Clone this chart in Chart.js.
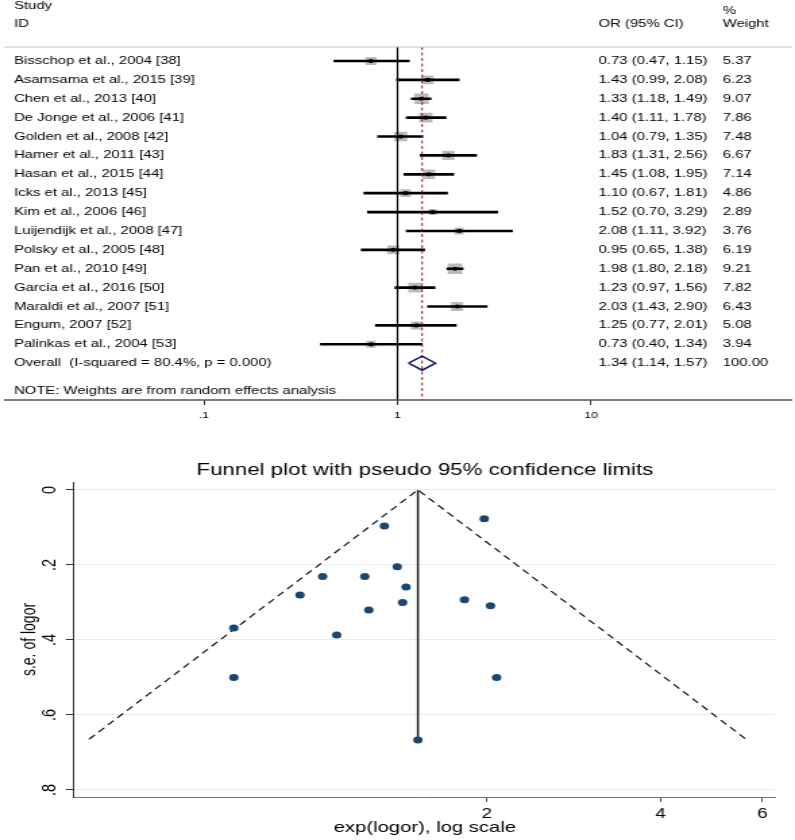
<!DOCTYPE html>
<html>
<head>
<meta charset="utf-8">
<title>Forest plot and funnel plot</title>
<script src="https://cdn.jsdelivr.net/npm/chart.js@4.4.1/dist/chart.umd.min.js"></script>
<style>
  html, body { margin: 0; padding: 0; background: #fff; }
  .wrap { position: relative; width: 795px; height: 840px; overflow: hidden; }
  canvas { position: absolute; left: 0; }
</style>
</head>
<body>
<div class="wrap">
  <!-- canvases are drawn narrow and stretched sideways, like the original figure -->
  <canvas id="forest" width="589" height="432" style="top:0;width:795px;height:432px"></canvas>
  <canvas id="funnel" width="589" height="408" style="top:432px;width:795px;height:408px"></canvas>
</div>
<script>
// ---- forest plot data ----
const studies = [
  "Bisschop et al., 2004 [38]", "Asamsama et al., 2015 [39]", "Chen et al., 2013 [40]",
  "De Jonge et al., 2006 [41]", "Golden et al., 2008 [42]", "Hamer et al., 2011 [43]",
  "Hasan et al., 2015 [44]", "Icks et al., 2013 [45]", "Kim et al., 2006 [46]",
  "Luijendijk et al., 2008 [47]", "Polsky et al., 2005 [48]", "Pan et al., 2010 [49]",
  "Garcia et al., 2016 [50]", "Maraldi et al., 2007 [51]", "Engum, 2007 [52]",
  "Palinkas et al., 2004 [53]"
];
const orValues = [0.73, 1.43, 1.33, 1.40, 1.04, 1.83, 1.45, 1.10, 1.52, 2.08, 0.95, 1.98, 1.23, 2.03, 1.25, 0.73];
const ciLower  = [0.47, 0.99, 1.18, 1.11, 0.79, 1.31, 1.08, 0.67, 0.70, 1.11, 0.65, 1.80, 0.97, 1.43, 0.77, 0.40];
const ciUpper  = [1.15, 2.08, 1.49, 1.78, 1.35, 2.56, 1.95, 1.81, 3.29, 3.92, 1.38, 2.18, 1.56, 2.90, 2.01, 1.34];
const weights  = [5.37, 6.23, 9.07, 7.86, 7.48, 6.67, 7.14, 4.86, 2.89, 3.76, 6.19, 9.21, 7.82, 6.43, 5.08, 3.94];
const overallOR = 1.34;
const overallLower = 1.14;
const overallUpper = 1.57;
const overallWeight = "100.00";
const overallLabel = "Overall  (I-squared = 80.4%, p = 0.000)";
const noteLabel = "NOTE: Weights are from random effects analysis";
const forestTicks = [0.1, 1, 10];
const forestTickLabels = [".1", "1", "10"];

// ---- funnel plot data ----
const funnelOR = [0.73, 1.43, 1.33, 1.40, 1.04, 1.83, 1.45, 1.10, 1.52, 2.08, 0.95, 1.98, 1.23, 2.03, 1.25, 0.73];
const funnelSE = [0.368, 0.300, 0.096, 0.205, 0.231, 0.293, 0.259, 0.387, 0.667, 0.500, 0.280, 0.077, 0.231, 0.309, 0.320, 0.500];
const pooledOR = 1.52;
const limitSE = 0.665;
const limitLower = 0.41;
const limitUpper = 5.62;
const funnelXTicks = [2, 4, 6];
const funnelYTicks = [0, 0.2, 0.4, 0.6, 0.8];
const funnelYTickLabels = ["0", ".2", ".4", ".6", ".8"];

const FONT = '"Liberation Sans", Arial, Helvetica, sans-serif';

// layout (internal canvas px; the canvas is stretched x1.35 on screen)
const COL_ID = 10.4;
const COL_OR = 443.5;
const COL_W = 535.5;
const ROW_OVERALL = 17;
const ROW_NOTE = 18.47;
const Y_MIN = 0.259;
const Y_MAX = 18.95;

function drawText(ctx, s, x, y, size, align, rot) {
  ctx.save();
  ctx.font = size + "px " + FONT;
  ctx.fillStyle = "#000";
  ctx.textAlign = align || "left";
  ctx.textBaseline = "middle";
  ctx.translate(x, y);
  if (rot) ctx.rotate(rot);
  ctx.fillText(s, 0, 0);
  ctx.restore();
}

function hLine(ctx, x1, x2, y, color, width) {
  ctx.save();
  ctx.strokeStyle = color;
  ctx.lineWidth = width;
  ctx.beginPath();
  ctx.moveTo(x1, y);
  ctx.lineTo(x2, y);
  ctx.stroke();
  ctx.restore();
}

// text columns and frame lines of the forest plot
const forestText = {
  id: "forestText",
  afterDraw(chart) {
    const ctx = chart.ctx;
    const ys = chart.scales.y;
    const top = chart.chartArea.top;
    const bottom = chart.chartArea.bottom;

    drawText(ctx, "Study", COL_ID, 6, 11);
    drawText(ctx, "ID", COL_ID, 24, 11);
    drawText(ctx, "OR (95% CI)", COL_OR, 24, 11);
    drawText(ctx, "%", COL_W, 11, 11);
    drawText(ctx, "Weight", COL_W, 24, 11);

    hLine(ctx, 3, 587, top, "#c4c4c4", 1);
    hLine(ctx, 3, 587, bottom, "#555", 1.3);

    studies.forEach((name, i) => {
      const py = ys.getPixelForValue(i + 1);
      drawText(ctx, name, COL_ID, py, 11);
      const ci = orValues[i].toFixed(2) + " (" + ciLower[i].toFixed(2) + ", " + ciUpper[i].toFixed(2) + ")";
      drawText(ctx, ci, COL_OR, py, 11);
      drawText(ctx, weights[i].toFixed(2), COL_W, py, 11);
    });

    const po = ys.getPixelForValue(ROW_OVERALL);
    drawText(ctx, overallLabel, COL_ID, po, 11);
    drawText(ctx, overallOR.toFixed(2) + " (" + overallLower.toFixed(2) + ", " + overallUpper.toFixed(2) + ")", COL_OR, po, 11);
    drawText(ctx, overallWeight, COL_W, po, 11);
    drawText(ctx, noteLabel, COL_ID, ys.getPixelForValue(ROW_NOTE), 11);
  }
};

// titles of the funnel plot
const funnelText = {
  id: "funnelText",
  afterDraw(chart) {
    const ctx = chart.ctx;
    const a = chart.chartArea;
    const cx = (a.left + a.right) / 2;
    drawText(ctx, "Funnel plot with pseudo 95% confidence limits", cx, 38, 16.5, "center");
    drawText(ctx, "exp(logor), log scale", cx, 396, 15, "center");
    drawText(ctx, "s.e. of logor", 22.2, (a.top + a.bottom) / 2, 14, "center", -Math.PI / 2);
  }
};

function buildForest() {
  const rows = studies.map((_, i) => i + 1);
  const diamondHalf = 0.37;

  new Chart(document.getElementById("forest"), {
    type: "scatter",
    data: {
      datasets: [
        {
          // weight boxes
          data: rows.map((r, i) => ({ x: orValues[i], y: r })),
          pointStyle: "rect",
          pointRadius: (c) => 2.5 * Math.sqrt(weights[c.dataIndex] || 0),
          backgroundColor: "#bababa",
          borderWidth: 0,
          order: 5
        },
        {
          // confidence intervals
          type: "bar",
          indexAxis: "y",
          data: rows.map((r, i) => ({ x: [ciLower[i], ciUpper[i]], y: r })),
          backgroundColor: "#000",
          borderWidth: 0,
          barThickness: 2,
          order: 4
        },
        {
          // no-effect line
          type: "line",
          data: [{ x: 1, y: Y_MIN }, { x: 1, y: Y_MAX }],
          borderColor: "#000",
          borderWidth: 1.2,
          pointRadius: 0,
          order: 3
        },
        {
          // pooled estimate line
          type: "line",
          data: [{ x: overallOR, y: Y_MIN }, { x: overallOR, y: Y_MAX }],
          borderColor: "#8b1c1c",
          borderWidth: 1,
          borderDash: [3, 2.5],
          pointRadius: 0,
          order: 3
        },
        {
          // point estimates
          data: rows.map((r, i) => ({ x: orValues[i], y: r })),
          pointStyle: "circle",
          pointRadius: 2.1,
          backgroundColor: "#000",
          borderWidth: 0,
          order: 1
        },
        {
          // overall diamond
          type: "line",
          data: [
            { x: overallLower, y: ROW_OVERALL },
            { x: overallOR, y: ROW_OVERALL - diamondHalf },
            { x: overallUpper, y: ROW_OVERALL },
            { x: overallOR, y: ROW_OVERALL + diamondHalf },
            { x: overallLower, y: ROW_OVERALL }
          ],
          borderColor: "#1c1c6e",
          borderWidth: 1.6,
          pointRadius: 0,
          tension: 0,
          order: 0
        }
      ]
    },
    options: {
      responsive: false,
      animation: false,
      devicePixelRatio: 1,
      layout: { padding: { left: 1.5, right: 5.3, top: 47, bottom: 0 } },
      plugins: { legend: { display: false }, tooltip: { enabled: false } },
      scales: {
        x: {
          type: "logarithmic",
          min: 0.01,
          max: 100,
          afterBuildTicks: (s) => { s.ticks = forestTicks.map((v) => ({ value: v })); },
          afterFit: (s) => { s.height = 32; },
          border: { display: false },
          grid: { drawOnChartArea: false, drawTicks: true, tickLength: 5, tickColor: "#333", tickWidth: 1 },
          ticks: {
            autoSkip: false,
            maxRotation: 0,
            padding: 5.5,
            color: "#000",
            font: { family: FONT, size: 9 },
            callback: (v, i) => forestTickLabels[i]
          }
        },
        y: {
          type: "linear",
          display: false,
          offset: false,
          grid: { offset: false },
          reverse: true,
          min: Y_MIN,
          max: Y_MAX
        }
      }
    },
    plugins: [forestText]
  });
}

function buildFunnel() {
  new Chart(document.getElementById("funnel"), {
    type: "scatter",
    data: {
      datasets: [
        {
          data: funnelOR.map((v, i) => ({ x: v, y: funnelSE[i] })),
          pointRadius: 3.5,
          backgroundColor: "#1a476f",
          borderWidth: 0,
          order: 1
        },
        {
          // pseudo 95% limits
          type: "line",
          data: [
            { x: limitLower, y: limitSE },
            { x: pooledOR, y: 0 },
            { x: limitUpper, y: limitSE }
          ],
          borderColor: "#000",
          borderWidth: 1.1,
          borderDash: [6, 4],
          pointRadius: 0,
          tension: 0,
          order: 2
        },
        {
          // pooled estimate
          type: "line",
          data: [{ x: pooledOR, y: 0 }, { x: pooledOR, y: limitSE }],
          borderColor: "#222",
          borderWidth: 1.5,
          pointRadius: 0,
          order: 2
        }
      ]
    },
    options: {
      responsive: false,
      animation: false,
      devicePixelRatio: 1,
      layout: { padding: { left: 0, right: 14.2, top: 50, bottom: 0 } },
      plugins: { legend: { display: false }, tooltip: { enabled: false } },
      scales: {
        x: {
          type: "logarithmic",
          min: 0.386,
          max: 6.33,
          afterBuildTicks: (s) => { s.ticks = funnelXTicks.map((v) => ({ value: v })); },
          afterFit: (s) => { s.height = 43; },
          border: { display: true, color: "#777", width: 1 },
          grid: { drawOnChartArea: false, drawTicks: true, tickLength: 5, tickColor: "#555" },
          ticks: {
            autoSkip: false,
            maxRotation: 0,
            padding: 4,
            color: "#000",
            font: { family: FONT, size: 14 },
            callback: (v) => String(v)
          }
        },
        y: {
          type: "linear",
          reverse: true,
          min: -0.021,
          max: 0.819,
          afterBuildTicks: (s) => { s.ticks = funnelYTicks.map((v) => ({ value: v })); },
          afterFit: (s) => { s.width = 54.8; },
          border: { display: true, color: "#333", width: 1 },
          grid: { color: "#e6edf2", lineWidth: 1, drawTicks: true, tickLength: 6, tickColor: "#333" },
          ticks: {
            autoSkip: false,
            minRotation: 90,
            maxRotation: 90,
            crossAlign: "center",
            padding: 6,
            color: "#000",
            font: { family: FONT, size: 14.5 },
            callback: (v, i) => funnelYTickLabels[i]
          }
        }
      }
    },
    plugins: [funnelText]
  });
}

document.addEventListener("DOMContentLoaded", () => {
  buildForest();
  buildFunnel();
});
</script>
</body>
</html>
